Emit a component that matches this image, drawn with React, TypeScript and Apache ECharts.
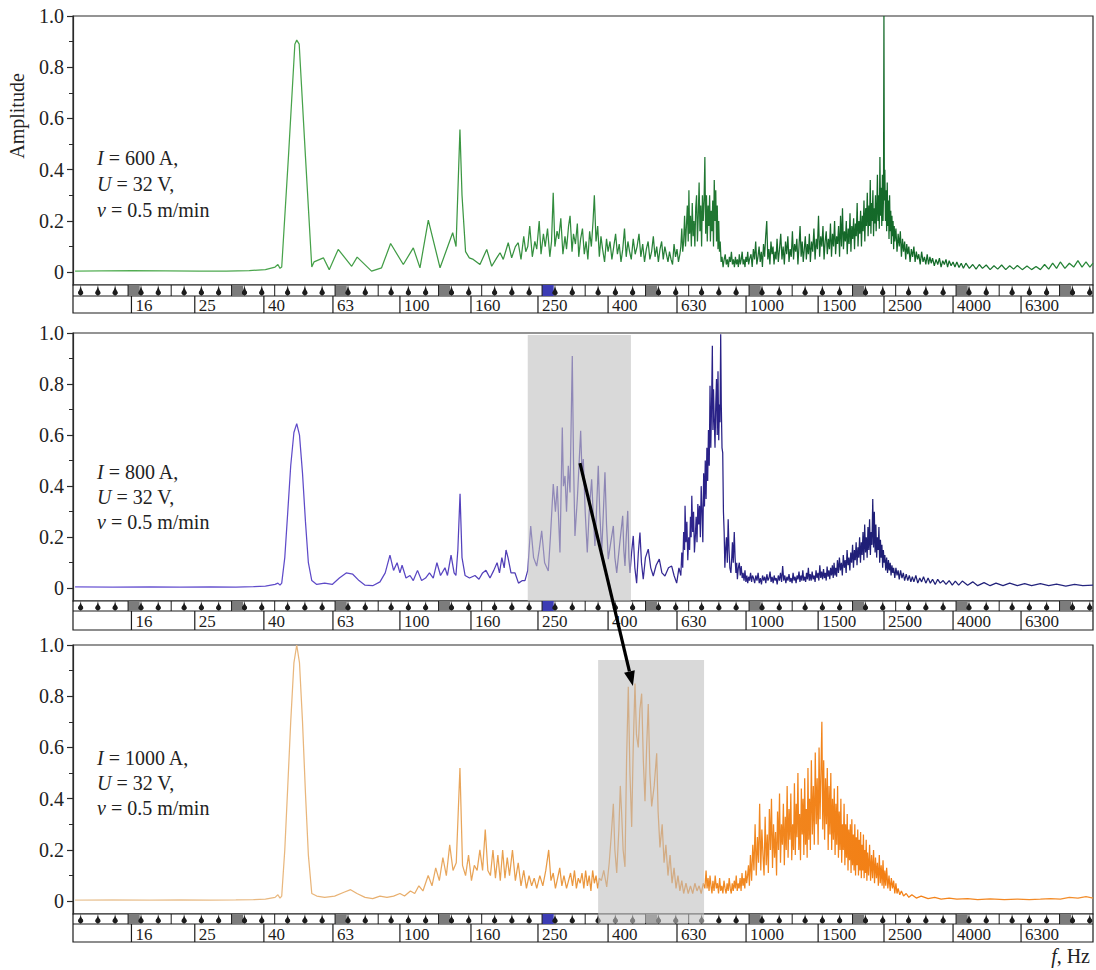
import React, { useEffect, useRef } from "react";
import * as echarts from "echarts";

const FREQ_MIN = 10.75;
const FREQ_MAX = 9957;

const yMajorTicks = [0, 0.2, 0.4, 0.6, 0.8, 1.0];
const yMinorTicks = [0.1, 0.3, 0.5, 0.7, 0.9];

const bandLabels = ["16", "25", "40", "63", "100", "160", "250", "400", "630", "1000", "1500", "2500", "4000", "6300"];
const bandEdgesHz = [15.9, 24.3, 38.6, 61.3, 96, 154.5, 242, 387, 614, 975, 1580, 2456, 3900, 6150];

const KEYBOARD_C0_HZ = 16; // scientific pitch C0
const MIDDLE_C_OCTAVE = 4;

const currents = ["600", "800", "1000"];
const voltage = "32";
const travelSpeed = "0.5";

const spectrum600: number[][] = [
  [10.9,0.004],[13,0.005],[16,0.006],[20,0.005],[25,0.004],[30,0.004],[35,0.006],[39,0.01],[41.6,0.02],[42.4,0.03],[43,0.015],[43.5,0.02],[45.5,0.45],[47.5,0.89],[48.1,0.906],[48.9,0.89],[51,0.45],[53.2,0.02],[54,0.04],[57.5,0.056],[59.8,0.01],[63.5,0.089],[69.5,0.023],[72.1,0.059],[79.4,0.004],[84.9,0.017],[90.2,0.112],[98.2,0.03],[105,0.095],[109.8,0.017],[116.1,0.203],[125.6,0.017],[136.7,0.154],[139.8,0.1],[143.5,0.557],[145.5,0.3],[149,0.08],[152.8,0.056],[156.9,0.05],[164.1,0.03],[171.7,0.089],[177.5,0.023],[183.6,0.056],[187.7,0.076],[191.8,0.05],[198.3,0.115],[202.9,0.056],[208,0.1],[212,0.115],
  [216,0.05],[220,0.14],[223,0.08],[226,0.1],[229,0.18],[233,0.06],[237,0.12],[240,0.09],[244,0.2],[247,0.07],[251,0.15],[254,0.1],[258,0.17],[262,0.06],[265,0.12],[268,0.31],[271,0.1],[275,0.16],[278,0.13],[282,0.21],[286,0.07],[290,0.14],[293,0.09],[297,0.18],[300,0.22],[304,0.08],[307,0.15],[311,0.11],[315,0.19],[318,0.06],[322,0.13],[326,0.17],[330,0.07],[334,0.12],[338,0.05],[342,0.16],[346,0.1],[350,0.2],[353,0.3],[357,0.12],[361,0.18],[365,0.06],[369,0.14],[373,0.09],[378,0.04],[383,0.13],[387,0.08],[392,0.12],[397,0.05],[402,0.1],[407,0.15],[412,0.07],[417,0.11],[422,0.04],[427,0.09],[432,0.17],[437,0.06],[442,0.12],[447,0.08],[452,0.05],[458,0.13],[464,0.07],[470,0.1],[476,0.15],[482,0.06],[488,0.11],[494,0.04],[500,0.09],[506,0.12],[512,0.05],[518,0.08],[524,0.14],[530,0.06],[536,0.1],[542,0.04],[548,0.09],[554,0.12],[560,0.05],[566,0.1],[572,0.07],[578,0.04],[584,0.08],[590,0.05],[596,0.03],[602,0.11],[608,0.06],[614,0.09],[620,0.04],[626,0.07],
  [630,0.1],[634,0.17],[638,0.08],[642,0.12],[646,0.22],[650,0.1],[654,0.18],[658,0.26],[662,0.12],[665,0.32],[668,0.15],[672,0.22],[676,0.1],[680,0.27],[684,0.14],[688,0.2],[692,0.1],[696,0.25],[700,0.3],[704,0.12],[708,0.22],[712,0.35],[716,0.16],[720,0.26],[724,0.1],[728,0.3],[732,0.2],[736,0.28],[740,0.45],[744,0.15],[748,0.3],[752,0.12],[756,0.26],[760,0.18],[764,0.3],[768,0.12],[772,0.24],[776,0.16],[780,0.28],[784,0.1],[788,0.36],[792,0.2],[796,0.32],[800,0.12],[804,0.26],[808,0.09],[812,0.2],[816,0.08],[820,0.12],[825,0.04],[830,0.06],[836,0.02],[842,0.05],[848,0.07],[854,0.03],[860,0.05],[866,0.02],[872,0.06],[878,0.04],[884,0.08],[890,0.03],[896,0.05],[902,0.02],[908,0.06],[914,0.03],[920,0.05],[926,0.02],[932,0.07],[938,0.03],[944,0.05],[950,0.08],[956,0.03],[962,0.05],[968,0.02],[974,0.06],[980,0.04],[986,0.08],[992,0.03],[998,0.05],
  [1008,0.07],[1016,0.02],[1024,0.09],[1032,0.05],[1040,0.12],[1048,0.03],[1056,0.06],[1064,0.1],[1072,0.04],[1080,0.08],[1088,0.02],[1096,0.11],[1104,0.06],[1112,0.14],[1120,0.2],[1128,0.05],[1136,0.09],[1144,0.03],[1152,0.12],[1160,0.07],[1168,0.1],[1176,0.03],[1184,0.08],[1192,0.05],[1200,0.13],[1210,0.04],[1220,0.09],[1230,0.15],[1240,0.05],[1250,0.1],[1260,0.03],[1270,0.12],[1280,0.07],[1290,0.14],[1300,0.04],[1310,0.09],[1320,0.06],[1330,0.16],[1340,0.05],[1350,0.11],[1360,0.08],[1370,0.13],[1380,0.03],[1390,0.1],[1400,0.18],[1410,0.06],[1420,0.12],[1430,0.04],[1440,0.09],[1450,0.14],[1460,0.05],[1470,0.11],[1480,0.07],[1490,0.15],[1500,0.04],[1512,0.12],[1524,0.08],[1536,0.17],[1548,0.05],[1560,0.13],[1572,0.09],[1584,0.22],[1596,0.06],[1608,0.14],[1620,0.1],[1632,0.18],[1644,0.05],[1656,0.12],[1668,0.16],[1680,0.07],[1692,0.13],[1704,0.09],[1716,0.19],[1728,0.06],[1740,0.15],[1752,0.1],[1764,0.2],[1776,0.07],[1788,0.14],[1800,0.11],[1812,0.18],[1824,0.06],[1836,0.22],[1848,0.1],[1860,0.25],[1872,0.09],[1884,0.16],[1896,0.12],[1908,0.2],[1920,0.07],[1932,0.17],[1944,0.11],[1956,0.23],[1968,0.08],[1980,0.18],[1992,0.13],[2004,0.21],[2016,0.09],[2028,0.19],[2040,0.14],[2052,0.27],[2064,0.1],[2076,0.2],[2088,0.15],[2100,0.24],[2112,0.1],[2124,0.22],[2136,0.16],[2148,0.28],[2160,0.12],[2172,0.25],[2184,0.18],[2196,0.31],[2208,0.14],
  [2220,0.26],[2230,0.18],[2240,0.36],[2250,0.15],[2260,0.27],[2270,0.2],[2280,0.32],[2290,0.14],[2300,0.25],[2310,0.19],[2320,0.3],[2330,0.16],[2340,0.24],[2350,0.38],[2360,0.2],[2370,0.3],[2380,0.17],[2390,0.45],[2400,0.22],[2410,0.33],[2420,0.18],[2430,0.38],[2440,0.2],[2448,0.3],[2455,1.0],[2462,0.28],[2470,0.4],[2480,0.2],[2490,0.32],[2500,0.16],[2510,0.35],[2520,0.18],[2530,0.28],[2540,0.13],[2550,0.3],[2560,0.16],[2570,0.24],[2580,0.11],[2590,0.22],[2600,0.14],[2610,0.2],[2620,0.09],[2630,0.18],[2640,0.12],
  [2660,0.17],[2680,0.08],[2700,0.15],[2720,0.1],[2740,0.16],[2760,0.06],[2780,0.13],[2800,0.08],[2820,0.12],[2840,0.05],[2860,0.11],[2880,0.07],[2900,0.1],[2925,0.04],[2950,0.09],[2975,0.06],[3000,0.1],[3025,0.04],[3050,0.08],[3075,0.05],[3100,0.07],[3130,0.03],[3160,0.08],[3190,0.04],[3220,0.06],[3250,0.03],[3280,0.07],[3310,0.03],[3340,0.06],[3370,0.035],[3400,0.055],[3440,0.025],[3480,0.05],[3520,0.03],[3560,0.055],[3600,0.02],[3640,0.045],[3680,0.03],[3720,0.05],[3760,0.02],[3800,0.045],[3850,0.025],[3900,0.04],[3950,0.02],[4000,0.04],[4060,0.018],[4120,0.035],[4180,0.015],
  [4250,0.035],[4350,0.015],[4450,0.03],[4550,0.012],[4650,0.03],[4750,0.015],[4870,0.028],[5000,0.01],[5130,0.025],[5260,0.012],[5400,0.028],[5550,0.01],[5700,0.025],[5850,0.012],[6000,0.026],[6200,0.01],[6400,0.024],[6600,0.01],[6800,0.022],[7000,0.01],[7200,0.03],[7400,0.012],[7600,0.035],[7800,0.015],[8000,0.04],[8250,0.015],[8500,0.035],[8750,0.02],[9000,0.045],[9250,0.02],[9500,0.04],[9750,0.02],[9957,0.035]
];

const spectrum800: number[][] = [
  [10.9,0.005],[14,0.004],[18,0.005],[22,0.004],[27,0.005],[32,0.004],[36,0.006],[39,0.008],[41.6,0.015],[42.4,0.02],[43,0.012],[43.5,0.02],[44.4,0.12],[45.3,0.3],[46.2,0.48],[47.2,0.61],[48.1,0.645],[49,0.6],[50,0.45],[51,0.26],[52,0.1],[53.2,0.03],[55,0.015],[58,0.02],[61,0.015],[64,0.04],[67,0.06],[70,0.055],[73,0.03],[76,0.012],[80,0.01],[84,0.025],[87,0.06],[89.8,0.13],[92,0.07],[94.2,0.1],[96,0.06],[97.4,0.09],[100,0.04],[102.7,0.05],[105,0.03],[108,0.07],[111,0.03],[114,0.04],[117,0.06],[120,0.04],[123,0.1],[126,0.05],[129.8,0.08],[132,0.05],[135.2,0.13],[138,0.06],[139.7,0.05],[141.5,0.15],[143.6,0.37],[145.5,0.12],[148.5,0.05],[153,0.04],[158.7,0.05],[163,0.035],[167,0.06],[170.8,0.07],[175.5,0.04],[180,0.07],[184,0.1],[187,0.06],[190,0.12],[193,0.08],[195.4,0.15],[198,0.12],[202,0.06],[207.5,0.06],[212.4,0.02],[218,0.03],[221.8,0.03],[226,0.07],
  [230.5,0.244],[235,0.12],[239.9,0.087],[244,0.15],[248.1,0.225],[253,0.1],[259.3,0.068],[263,0.2],[268.1,0.408],[272,0.3],[275.4,0.4],[280.4,0.14],[284.8,0.63],[287,0.4],[290,0.44],[293,0.3],[296.5,0.48],[299.9,0.375],[304.5,0.91],[307,0.5],[310,0.205],[315,0.35],[319,0.5],[322.1,0.617],[325,0.45],[327.8,0.506],[332,0.3],[336.7,0.14],[341,0.3],[346.7,0.427],[350,0.3],[354.4,0.166],[358,0.3],[362.4,0.48],[366,0.3],[370.8,0.14],[375,0.3],[379,0.454],[383,0.25],[387.5,0.114],[394,0.18],[400.9,0.244],[405,0.12],[410.1,0.06],[418,0.17],[426.8,0.284],[430,0.15],[433.4,0.087],[437,0.2],[441.5,0.303],[445,0.12],[448.1,0.06],[453,0.14],[458.1,0.205],[463,0.08],[468.6,0.02],[474,0.14],[479.1,0.218],[484,0.1],[489.8,0.035],[497,0.12],[506.5,0.153],[515,0.08],[523.8,0.048],[534,0.09],[545.3,0.114],[555,0.06],[566.4,0.048],[580,0.08],[592.5,0.087],[602,0.05],[612.7,0.02],[622,0.08],
  [630,0.05],[634,0.14],[638,0.08],[642,0.22],[646,0.15],[648,0.323],[652,0.18],[656,0.26],[660,0.11],[664,0.2],[668,0.15],[672,0.28],[675,0.2],[678,0.362],[682,0.22],[686,0.3],[690,0.14],[694,0.2],[698,0.28],[702,0.18],[706,0.33],[710,0.25],[714,0.323],[718,0.2],[722,0.4],[726,0.3],[730,0.18],[734,0.45],[738,0.32],[742,0.5],[746,0.35],[750,0.55],[754,0.42],[758,0.62],[762,0.48],[766,0.793],[770,0.55],[774,0.72],[778,0.95],[781,0.62],[784,0.78],[788,0.66],[792,0.55],[796,0.72],[800,0.82],[804,0.6],[808,0.85],[812,0.58],[816,0.72],[819,0.65],[822.7,0.995],[826,0.72],[830,0.55],[834,0.53],[838,0.3],[842,0.22],[846,0.08],[850,0.15],[855,0.2],[860,0.1],[865,0.27],[870,0.15],[875,0.08],[881,0.06],[886,0.12],[890,0.18],[895,0.1],[901,0.22],[906,0.12],[911,0.06],[916,0.1],[920,0.035],[926,0.08],[932,0.1],[938,0.05],[944,0.087],[950,0.04],[956,0.06],[962,0.03],[968,0.07],[974,0.025],[980,0.05],[986,0.02],[992,0.045],[998,0.03],[1005,0.06],[1012,0.025],[1018,0.05],
  [1025,0.04],[1033,0.02],[1041,0.05],[1049,0.03],[1057,0.06],[1065,0.02],[1073,0.04],[1081,0.015],[1089,0.05],[1097,0.03],[1105,0.045],[1113,0.02],[1121,0.055],[1129,0.03],[1137,0.04],[1145,0.065],[1153,0.025],[1161,0.045],[1169,0.02],[1177,0.05],[1185,0.03],[1193,0.04],[1201,0.015],[1210,0.05],[1219,0.03],[1228,0.06],[1237,0.025],[1246,0.087],[1255,0.03],[1264,0.05],[1273,0.02],[1282,0.045],[1291,0.03],[1300,0.055],[1309,0.025],[1318,0.04],[1327,0.02],[1336,0.06],[1345,0.03],[1354,0.045],[1363,0.02],[1372,0.05],[1381,0.035],[1390,0.065],[1399,0.025],[1408,0.05],[1417,0.03],[1426,0.07],[1435,0.03],[1444,0.045],[1453,0.025],[1462,0.06],[1471,0.035],[1480,0.08],[1489,0.03],[1498,0.055],[1508,0.03],[1518,0.065],[1528,0.035],[1538,0.05],[1548,0.025],[1558,0.07],[1568,0.04],[1578,0.06],[1588,0.03],[1598,0.09],[1608,0.04],[1618,0.065],[1628,0.035],[1638,0.075],[1648,0.04],[1658,0.06],[1668,0.03],[1678,0.085],[1688,0.045],[1698,0.07],[1708,0.035],[1718,0.08],[1728,0.05],[1738,0.09],[1748,0.04],[1758,0.1],[1768,0.05],[1778,0.08],[1788,0.045],[1798,0.11],
  [1810,0.06],[1822,0.12],[1834,0.07],[1846,0.1],[1858,0.05],[1870,0.13],[1882,0.08],[1894,0.11],[1906,0.06],[1918,0.15],[1930,0.09],[1942,0.12],[1954,0.07],[1966,0.14],[1978,0.1],[1990,0.17],[2002,0.08],[2014,0.15],[2026,0.11],[2038,0.18],[2050,0.09],[2062,0.16],[2074,0.12],[2086,0.2],[2098,0.1],[2110,0.18],[2122,0.13],[2134,0.22],[2146,0.11],[2158,0.25],[2170,0.14],[2182,0.2],[2194,0.12],[2206,0.24],[2218,0.15],[2230,0.27],[2242,0.13],[2254,0.22],[2266,0.17],[2278,0.35],[2290,0.16],[2302,0.3],[2314,0.14],[2326,0.25],[2338,0.12],[2350,0.2],[2362,0.15],[2374,0.24],[2386,0.1],[2398,0.19],[2410,0.12],[2422,0.17],[2434,0.08],[2446,0.15],[2458,0.1],[2470,0.13],[2485,0.07],[2500,0.12],[2515,0.06],[2530,0.11],[2545,0.07],[2560,0.1],[2575,0.05],[2590,0.09],[2605,0.06],[2620,0.08],[2640,0.04],[2660,0.08],[2680,0.05],[2700,0.07],[2720,0.035],[2745,0.07],[2770,0.04],[2795,0.06],[2820,0.03],[2850,0.055],[2880,0.03],[2910,0.05],[2940,0.025],[2970,0.045],[3000,0.025],[3040,0.05],[3080,0.02],[3120,0.04],[3160,0.025],[3200,0.045],[3250,0.02],[3300,0.04],[3350,0.02],[3400,0.035],[3460,0.015],[3520,0.035],[3580,0.02],[3650,0.03],[3720,0.015],[3800,0.03],[3880,0.012],[3960,0.028],[4050,0.012],
  [4150,0.028],[4300,0.012],[4450,0.025],[4600,0.01],[4800,0.022],[5000,0.01],[5200,0.02],[5450,0.01],[5700,0.02],[6000,0.01],[6300,0.018],[6600,0.01],[7000,0.018],[7400,0.01],[7800,0.016],[8300,0.008],[8800,0.015],[9300,0.01],[9957,0.012]
];

const spectrum1000: number[][] = [
  [10.9,0.004],[14,0.005],[18,0.004],[22,0.005],[27,0.004],[32,0.005],[36,0.006],[39,0.008],[41.6,0.015],[42.4,0.025],[43,0.012],[43.5,0.02],[44.4,0.2],[45.3,0.45],[46.2,0.7],[47.2,0.93],[48.1,1.0],[49,0.93],[50,0.7],[51,0.42],[52,0.18],[53.2,0.03],[55,0.02],[58,0.015],[62,0.02],[66,0.035],[69,0.045],[72,0.03],[76,0.015],[80,0.01],[84,0.02],[88,0.015],[92,0.02],[96,0.03],[99,0.02],[103,0.04],[106,0.03],[109,0.06],[112,0.04],[116,0.1],[119,0.06],[122,0.13],[125,0.08],[128,0.17],[131,0.1],[134,0.22],[137,0.12],[140,0.15],[143.5,0.52],[146,0.14],[149,0.1],[152,0.18],[155,0.08],[158,0.14],[161,0.12],[164,0.2],[167,0.12],[170,0.28],[173,0.12],[176,0.1],[179,0.2],[182,0.09],[185,0.18],[188,0.08],[191,0.2],[194,0.09],[197,0.17],[200,0.1],[204,0.2],[208,0.08],[212,0.15],[216,0.06],[220,0.12],[224,0.05],[228,0.1],[232,0.06],[236,0.09],[240,0.05],[245,0.1],[250,0.06],[255,0.12],[260,0.2],[264,0.08],[268,0.11],[272,0.05],[276,0.09],[280,0.13],[284,0.06],[288,0.1],[293,0.05],[297,0.08],[301,0.11],[305,0.06],[309,0.12],[313,0.05],[317,0.09],[321,0.07],[325,0.11],[329,0.05],[333,0.12],[337,0.06],[341,0.1],[345,0.04],[349,0.12],[353,0.07],[357,0.1],[361,0.05],[365,0.09],
  [370,0.08],[376,0.12],[383.5,0.056],[390,0.15],[395,0.25],[400.9,0.38],[405,0.2],[410.1,0.11],[416,0.28],[420,0.45],[423.9,0.34],[428,0.2],[433.4,0.134],[438,0.55],[443.1,0.837],[448,0.5],[453.3,0.29],[458,0.6],[463.4,0.85],[468,0.65],[473.7,0.6],[479,0.75],[484.6,0.81],[490,0.55],[495.5,0.39],[501,0.6],[506.5,0.77],[512,0.5],[518.2,0.37],[527,0.45],[535.9,0.577],[541,0.35],[547.8,0.21],[556,0.3],[563,0.15],[570,0.22],[578,0.1],[586,0.18],[594,0.07],[602,0.13],[610,0.05],[618,0.1],[626,0.04],[634,0.08],[642,0.03],[652,0.07],[662,0.03],[672,0.06],[682,0.03],[692,0.07],[702,0.04],[712,0.06],[722,0.03],[732,0.07],[740,0.05],
  [746,0.12],[751,0.05],[756,0.09],[761,0.04],[766,0.1],[771,0.06],[776,0.03],[781,0.08],[787,0.04],[793,0.1],[799,0.05],[805,0.07],[811,0.03],[817,0.09],[823,0.04],[829,0.06],[835,0.03],[841,0.08],[847,0.05],[853,0.03],[859,0.07],[865,0.04],[871,0.09],[877,0.05],[883,0.03],[889,0.07],[895,0.04],[901,0.08],[907,0.05],[913,0.1],[919,0.04],[925,0.07],[931,0.05],[937,0.09],[943,0.04],[949,0.11],[955,0.06],[961,0.09],[967,0.05],[973,0.12],[979,0.07],[985,0.1],[991,0.14],[997,0.06],
  [1004,0.18],[1012,0.08],[1020,0.22],[1028,0.12],[1036,0.3],[1044,0.1],[1052,0.25],[1060,0.15],[1068,0.38],[1076,0.12],[1084,0.28],[1092,0.18],[1100,0.1],[1108,0.33],[1116,0.14],[1124,0.26],[1132,0.11],[1140,0.36],[1148,0.2],[1156,0.4],[1164,0.13],[1172,0.3],[1180,0.17],[1188,0.27],[1196,0.1],[1204,0.35],[1212,0.2],[1220,0.42],[1228,0.15],[1236,0.3],[1244,0.22],[1252,0.38],[1260,0.14],[1268,0.33],[1276,0.2],[1284,0.45],[1292,0.17],[1300,0.36],[1308,0.24],[1316,0.42],[1324,0.16],[1332,0.3],[1340,0.2],[1348,0.46],[1356,0.18],[1364,0.38],[1372,0.25],[1380,0.5],[1388,0.2],[1396,0.34],[1404,0.16],[1412,0.44],[1420,0.26],[1428,0.4],[1436,0.18],[1444,0.48],[1452,0.22],[1460,0.36],[1468,0.17],[1476,0.52],[1484,0.24],[1492,0.4],[1500,0.2],[1510,0.55],[1520,0.26],[1530,0.45],[1540,0.22],[1550,0.58],[1560,0.3],[1570,0.48],[1580,0.22],[1590,0.6],[1600,0.32],[1610,0.5],[1620,0.7],[1630,0.28],[1640,0.55],[1650,0.24],[1660,0.48],[1670,0.3],[1680,0.52],[1690,0.2],[1700,0.45],[1710,0.26],[1720,0.5],[1730,0.2],[1740,0.4],[1750,0.24],[1760,0.44],[1770,0.18],[1780,0.38],[1790,0.22],[1800,0.45],[1810,0.17],[1820,0.35],[1830,0.2],[1840,0.4],[1850,0.15],[1860,0.3],[1870,0.2],[1880,0.38],[1890,0.14],[1900,0.3],[1910,0.17],[1920,0.34],[1930,0.12],[1940,0.28],[1950,0.16],[1960,0.3],[1970,0.11],[1980,0.32],[1990,0.14],[2000,0.26],[2010,0.12],[2020,0.3],[2030,0.1],[2040,0.25],[2050,0.14],[2060,0.28],[2070,0.1],[2080,0.24],[2090,0.12],[2100,0.27],[2110,0.09],[2120,0.22],[2130,0.12],[2140,0.26],[2150,0.09],[2160,0.2],[2170,0.11],[2180,0.24],[2190,0.08],[2200,0.19],
  [2215,0.1],[2230,0.22],[2245,0.08],[2260,0.18],[2275,0.09],[2290,0.2],[2305,0.07],[2320,0.17],[2335,0.09],[2350,0.15],[2365,0.06],[2380,0.18],[2395,0.07],[2410,0.14],[2425,0.06],[2440,0.16],[2455,0.05],[2470,0.12],[2485,0.06],[2500,0.13],[2520,0.05],[2540,0.1],[2560,0.04],[2580,0.09],[2600,0.05],[2620,0.08],[2640,0.03],[2660,0.07],[2680,0.03],[2700,0.05],[2730,0.025],[2760,0.04],[2800,0.02],[2850,0.03],[2900,0.015],[2960,0.025],[3050,0.012],[3150,0.02],[3300,0.01],[3450,0.015],[3600,0.008],[3800,0.012],[4000,0.008],[4300,0.01],[4600,0.006],[5000,0.009],[5500,0.006],[6000,0.008],[6500,0.006],[7000,0.008],[7500,0.01],[8000,0.008],[8500,0.015],[9000,0.012],[9500,0.018],[9957,0.012]
];

// highlighted ranges: [f low, f high, amplitude top, amplitude bottom]
const highlight800 = [226, 451, 0.992, -0.05];
const highlight1000 = [362, 736, 0.941, -0.085];
const arrowFrom = [320.6, 0.49];
const arrowTo = [457, 0.84];

const SERIF = "Liberation Serif";

const panels = [
  {
    data: spectrum600, top: 16, height: 269, stripTop: 285, stripH: 28, keyH: 11, textY: [158, 184, 210],
    stops: [[0, "#55b055"], [0.35, "#3f9a44"], [0.55, "#2a843a"], [0.7, "#17692b"], [0.85, "#126a28"], [1, "#2a8a3a"]],
  },
  {
    data: spectrum800, top: 333, height: 268, stripTop: 601, stripH: 29, keyH: 10, textY: [472, 497, 522],
    stops: [[0, "#6a55d4"], [0.35, "#5845c2"], [0.5, "#4634a8"], [0.62, "#2a2288"], [0.8, "#1e1e74"], [1, "#262680"]],
  },
  {
    data: spectrum1000, top: 645, height: 269, stripTop: 914, stripH: 28, keyH: 10, textY: [758, 783, 808],
    stops: [[0, "#eac79c"], [0.3, "#e8b070"], [0.45, "#e89c48"], [0.62, "#f08a24"], [0.8, "#f37f14"], [1, "#f39030"]],
  },
];

function buildStripItems() {
  const items: number[][] = [];
  items.push([FREQ_MIN, FREQ_MAX, 6, 0]);
  for (let oct = -1; oct <= 9; oct++) {
    const c = KEYBOARD_C0_HZ * Math.pow(2, oct);
    const semi = (k: number) => c * Math.pow(2, k / 12);
    items.push([semi(-0.5), semi(0.85), oct === MIDDLE_C_OCTAVE ? 1 : 0, 0]);
    items.push([semi(-0.5), semi(-0.5), 2, 0]);
    items.push([semi(4.5), semi(4.5), 2, 0]);
    for (const k of [1, 3, 6, 8, 10]) items.push([semi(k), semi(k), 3, 0]);
  }
  const kept = items.filter((it) => it[1] >= FREQ_MIN && it[0] <= FREQ_MAX);
  bandEdgesHz.forEach((f, i) => {
    kept.push([f, f, 4, i]);
    kept.push([f, f, 5, i]);
  });
  return kept;
}

const makeStripRender = (keyH: number) => (params: any, api: any) => {
  const cs = params.coordSys;
  const kind = api.value(2);
  const idx = api.value(3);
  const x1 = api.coord([api.value(0), 0.5])[0];
  const x2 = api.coord([api.value(1), 0.5])[0];
  const top = cs.y;
  const bottom = cs.y + cs.height;
  const mid = cs.y + keyH;
  const ink = "#1c1c1c";
  if (kind === 0 || kind === 1) {
    return { type: "rect", shape: { x: x1, y: top, width: x2 - x1, height: keyH }, style: { fill: kind === 1 ? "#3c3cb4" : "#7c7c7c" } };
  }
  if (kind === 2) {
    return { type: "line", shape: { x1: x1, y1: top, x2: x1, y2: mid }, style: { stroke: ink, lineWidth: 1 } };
  }
  if (kind === 3) {
    return {
      type: "group",
      children: [
        { type: "line", shape: { x1: x1, y1: top, x2: x1, y2: mid }, style: { stroke: "#666", lineWidth: 0.8 } },
        { type: "polygon", shape: { points: [[x1, top + 1.5], [x1 - 2.6, top + keyH - 2.5], [x1 + 2.6, top + keyH - 2.5]] }, style: { fill: ink } },
        { type: "circle", shape: { cx: x1, cy: top + keyH - 3.2, r: 2.6 }, style: { fill: ink } },
      ],
    };
  }
  if (kind === 4) {
    return { type: "line", shape: { x1: x1, y1: mid, x2: x1, y2: bottom }, style: { stroke: ink, lineWidth: 1.2 } };
  }
  if (kind === 5) {
    return {
      type: "text",
      x: x1 + 4,
      y: (mid + bottom) / 2 + 1,
      style: { text: bandLabels[idx], fill: "#1c1c1c", fontSize: 17, fontFamily: SERIF, align: "left", verticalAlign: "middle" },
    };
  }
  return { type: "line", shape: { x1: cs.x, y1: mid, x2: cs.x + cs.width, y2: mid }, style: { stroke: ink, lineWidth: 1.2 } };
};

export default function App() {
  const ref = useRef<HTMLDivElement>(null);

  useEffect(() => {
    document.body.style.margin = "0";
    if (!ref.current) return;
    const chart = echarts.init(ref.current, undefined, { renderer: "svg" });
    const stripItems = buildStripItems();
    const LEFT = 73;
    const WIDTH = 1020;

    const grids: any[] = [];
    const xAxes: any[] = [];
    const yAxes: any[] = [];
    const series: any[] = [];

    panels.forEach((p) => {
      grids.push({ left: LEFT, width: WIDTH, top: p.top, height: p.height, show: true, borderColor: "#2a2a2a", borderWidth: 1.2, backgroundColor: "transparent" });
    });
    panels.forEach((p) => {
      grids.push({ left: LEFT, width: WIDTH, top: p.stripTop, height: p.stripH, show: true, borderColor: "#1c1c1c", borderWidth: 1.2, backgroundColor: "#ffffff" });
    });
    for (let g = 0; g < 6; g++) {
      xAxes.push({ type: "log", logBase: 10, gridIndex: g, min: FREQ_MIN, max: FREQ_MAX, show: false });
    }
    panels.forEach((p, i) => {
      yAxes.push({
        type: "value", gridIndex: i, min: -0.05, max: 1, position: "left",
        axisLine: { show: true, lineStyle: { color: "#2a2a2a", width: 1.2 } },
        axisTick: { show: true, customValues: yMajorTicks, length: 6, lineStyle: { color: "#2a2a2a", width: 1.2 } },
        axisLabel: {
          customValues: yMajorTicks,
          formatter: (v: number) => (v === 0 ? "0" : v.toFixed(1)),
          fontFamily: SERIF, fontSize: 20, color: "#222", margin: 9,
        },
        splitLine: { show: false },
      });
    });
    panels.forEach((p, i) => {
      yAxes.push({
        type: "value", gridIndex: i, min: -0.05, max: 1, position: "left",
        axisLine: { show: false },
        axisTick: { show: true, customValues: yMinorTicks, length: 4, lineStyle: { color: "#2a2a2a", width: 1 } },
        axisLabel: { show: false },
        splitLine: { show: false },
      });
    });
    panels.forEach((p, i) => {
      yAxes.push({ type: "value", gridIndex: 3 + i, min: 0, max: 1, show: false });
    });

    panels.forEach((p, i) => {
      series.push({
        type: "line",
        xAxisIndex: i,
        yAxisIndex: i,
        data: p.data,
        showSymbol: false,
        symbol: "none",
        z: 3,
        lineStyle: {
          width: 1.25,
          color: new echarts.graphic.LinearGradient(0, 0, 1, 0, p.stops.map((s: any) => ({ offset: s[0], color: s[1] }))),
        },
      });
      series.push({
        type: "custom",
        xAxisIndex: 3 + i,
        yAxisIndex: 6 + i,
        data: stripItems,
        encode: { x: [0, 1], y: 3 },
        clip: true,
        z: 3,
        renderItem: makeStripRender(p.keyH),
      });
    });

    chart.setOption({
      animation: false,
      backgroundColor: "#ffffff",
      grid: grids,
      xAxis: xAxes,
      yAxis: yAxes,
      series,
    });

    const toPx = (gi: number, v: number[]) => chart.convertToPixel({ xAxisIndex: gi, yAxisIndex: gi } as any, v) as number[];
    const boxRect = (gi: number, h: number[]) => {
      const a = toPx(gi, [h[0], h[2]]);
      const b = toPx(gi, [h[1], h[3]]);
      return {
        type: "rect", z: 20,
        shape: { x: a[0], y: a[1], width: b[0] - a[0], height: b[1] - a[1] },
        style: { fill: "rgba(192,192,192,0.6)" },
      };
    };
    const s = toPx(1, arrowFrom);
    const e = toPx(2, arrowTo);
    const dx = e[0] - s[0];
    const dy = e[1] - s[1];
    const len = Math.sqrt(dx * dx + dy * dy);
    const ux = dx / len, uy = dy / len;
    const headL = 15, headW = 5.5;
    const bx = e[0] - ux * headL, by = e[1] - uy * headL;

    const txtStyle = (text: string) => ({
      text,
      rich: {
        i: { fontStyle: "italic", fontFamily: SERIF, fontSize: 20, fill: "#222" },
        n: { fontFamily: SERIF, fontSize: 20, fill: "#222" },
      },
      fontFamily: SERIF, fontSize: 20, fill: "#222",
      align: "left", verticalAlign: "middle",
    });

    const elements: any[] = [
      boxRect(1, highlight800),
      boxRect(2, highlight1000),
      { type: "line", z: 30, shape: { x1: s[0], y1: s[1], x2: bx, y2: by }, style: { stroke: "#000", lineWidth: 3.2 } },
      {
        type: "polygon", z: 30,
        shape: { points: [[e[0], e[1]], [bx - uy * headW, by + ux * headW], [bx + uy * headW, by - ux * headW]] },
        style: { fill: "#000" },
      },
      {
        type: "text", z: 30, x: 17, y: 116, rotation: Math.PI / 2,
        style: { text: "Amplitude", fontFamily: SERIF, fontSize: 20, fill: "#222", align: "center", verticalAlign: "middle" },
      },
      {
        type: "text", z: 30, x: 1090, y: 956,
        style: { ...txtStyle("{i|f}{n|, Hz}"), align: "right" },
      },
    ];
    panels.forEach((p, i) => {
      elements.push({ type: "text", z: 30, x: 97, y: p.textY[0], style: txtStyle(`{i|I}{n| = ${currents[i]} A,}`) });
      elements.push({ type: "text", z: 30, x: 97, y: p.textY[1], style: txtStyle(`{i|U}{n| = ${voltage} V,}`) });
      elements.push({ type: "text", z: 30, x: 97, y: p.textY[2], style: txtStyle(`{i|v}{n| = ${travelSpeed} m/min}`) });
    });
    chart.setOption({ graphic: { elements } });

    return () => chart.dispose();
  }, []);

  return <div ref={ref} style={{ width: 1096, height: 970 }} />;
}
